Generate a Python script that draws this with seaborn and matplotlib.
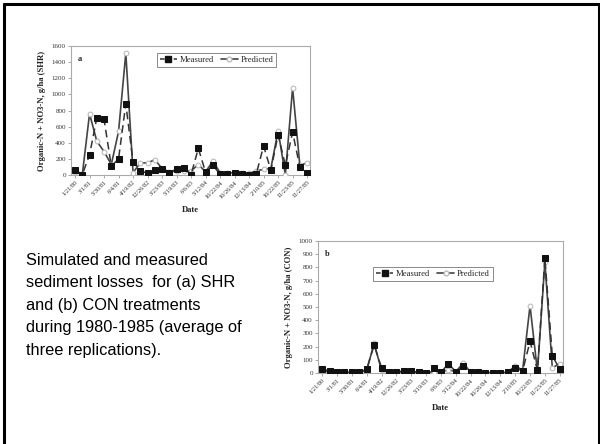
import numpy as np
import pandas as pd
import matplotlib
matplotlib.use("Agg")
import matplotlib.pyplot as plt
import seaborn as sns
from matplotlib.lines import Line2D

sns.set_style("white")
plt.rcParams['font.family'] = ['Liberation Serif', 'DejaVu Serif']

tick_labels = ["1/21/80", "3/1/81", "5/30/81", "6/4/81", "4/19/82", "12/26/82",
               "3/23/83", "5/19/83", "6/6/83", "5/12/84", "10/22/84", "10/26/84",
               "12/13/84", "2/10/85", "10/22/85", "11/23/85", "11/27/85"]

shr_measured = [65, 5, 250, 710, 690, 110, 200, 880, 160, 55, 20, 60, 75, 20, 80, 85,
                5, 330, 35, 120, 10, 15, 20, 10, 5, 15, 360, 60, 500, 120, 530, 100, 25]
shr_predicted = [40, 5, 760, 420, 290, 130, 540, 1510, 30, 150, 150, 190, 80, 40, 50, 50,
                 50, 130, 40, 170, 30, 20, 30, 25, 20, 50, 70, 80, 550, 0, 1080, 120, 150]

con_measured = [30, 15, 10, 5, 5, 5, 30, 210, 40, 10, 10, 15, 15, 5, 2, 35,
                5, 70, 10, 50, 5, 5, 3, 3, 3, 5, 40, 15, 240, 20, 870, 130, 30]
con_predicted = [20, 5, 5, 3, 3, 3, 20, 225, 20, 5, 5, 10, 10, 5, 2, 10,
                 5, 25, 10, 75, 5, 3, 3, 3, 3, 5, 55, 20, 510, 10, 840, 40, 70]

W, H = 600, 444
fig = plt.figure(figsize=(6, 4.44), dpi=100)
fig.patch.set_facecolor("white")

def px_axes(x0, y0, x1, y1):
    return fig.add_axes([x0 / W, 1 - y1 / H, (x1 - x0) / W, (y1 - y0) / H])

def draw_panel(ax, meas, pred, ymax, ystep, letter, ylabel, legend_bbox):
    idx = np.arange(len(meas))
    df_m = pd.DataFrame({"i": idx, "v": meas})
    df_p = pd.DataFrame({"i": idx, "v": pred})
    sns.lineplot(data=df_p, x="i", y="v", ax=ax, color="#444444", lw=1.2,
                 marker="o", markersize=3.4, markerfacecolor="white",
                 markeredgecolor="#bbbbbb", markeredgewidth=0.8, zorder=3)
    sns.lineplot(data=df_m, x="i", y="v", ax=ax, color="#333333", lw=1.1,
                 marker="s", markersize=3.8,
                 markerfacecolor="#111111", markeredgecolor="#111111", zorder=4)
    ax.lines[-1].set_linestyle((0, (5, 3)))
    ax.set_xlim(-0.6, len(meas) - 0.6)
    ax.set_ylim(0, ymax)
    ax.set_yticks(np.arange(0, ymax + 1, ystep))
    ax.set_yticklabels([str(int(v)) for v in np.arange(0, ymax + 1, ystep)], fontsize=5, color="#333333")
    ax.set_xticks(idx[::2])
    ax.set_xticklabels(tick_labels, rotation=45, ha="right", rotation_mode="anchor",
                       fontsize=4.6, color="#333333")
    ax.tick_params(axis="both", length=2, width=0.5, color="#888888", pad=1.5, left=True, bottom=True)
    for s in ax.spines.values():
        s.set_color("#aaaaaa")
        s.set_linewidth(0.8)
    ax.set_xlabel("Date", fontsize=6.2, fontweight="bold", labelpad=5, color="#222222")
    ax.set_ylabel(ylabel, fontsize=6.2, fontweight="bold", labelpad=4, color="#222222")
    ax.text(0.03, 0.93, letter, transform=ax.transAxes, fontsize=6, fontweight="bold",
            va="top", ha="left", color="#222222")
    handles = [
        Line2D([], [], color="#333333", lw=1.1, linestyle=(0, (3, 1.5)), marker="s",
               markersize=3.8, markerfacecolor="#111111", markeredgecolor="#111111"),
        Line2D([], [], color="#444444", lw=1.2, marker="o", markersize=3.4,
               markerfacecolor="white", markeredgecolor="#bbbbbb"),
    ]
    leg = ax.legend(handles, ["Measured", "Predicted"], loc="center", bbox_to_anchor=legend_bbox,
                    bbox_transform=ax.transAxes, ncol=2, fontsize=6.2, frameon=True, fancybox=False,
                    handlelength=2.0, handletextpad=0.3, columnspacing=0.8, borderpad=0.35)
    leg.get_frame().set_edgecolor("#555555")
    leg.get_frame().set_linewidth(0.6)

ax1 = px_axes(70.7, 46, 310, 175)
draw_panel(ax1, shr_measured, shr_predicted, 1600, 200, "a",
           "Organic-N + NO3-N, g/ha (SHR)", (0.61, 0.89))

ax2 = px_axes(317.7, 241, 562.7, 373)
draw_panel(ax2, con_measured, con_predicted, 1000, 100, "b",
           "Organic-N + NO3-N, g/ha (CON)", (0.47, 0.75))

caption = ("Simulated and measured\nsediment losses  for (a) SHR\nand (b) CON treatments\n"
           "during 1980-1985 (average of\nthree replications).")
fig.text(26 / W, 1 - 253 / H, caption, fontsize=11.8, family=["Liberation Sans", "DejaVu Sans"],
         va="top", ha="left", linespacing=1.62, color="black")

# slide frame
fig.add_artist(Line2D([4 / W, 4 / W], [0, 1 - 4 / H], transform=fig.transFigure, color="black", lw=2.2))
fig.add_artist(Line2D([4 / W, 598.5 / W], [1 - 4 / H, 1 - 4 / H], transform=fig.transFigure, color="black", lw=2.2))
fig.add_artist(Line2D([598.5 / W, 598.5 / W], [0, 1 - 4 / H], transform=fig.transFigure, color="black", lw=2.2))

fig.savefig("out.png", dpi=100, facecolor="white")
